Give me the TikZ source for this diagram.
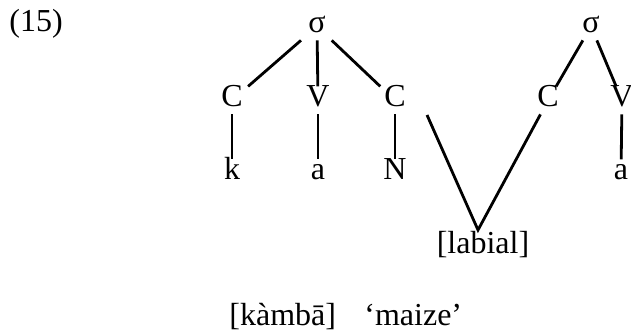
\documentclass[tikz,border=0pt]{standalone}
\usepackage{fontspec}
\setmainfont{Liberation Serif}
\begin{document}
\begin{tikzpicture}[x=0.5pt, y=-0.5pt, line width=1.4pt,
    every node/.style={font=\fontsize{16}{19}\selectfont},
    seg/.style={inner sep=3pt, text height=0.66em, text depth=0pt, anchor=base}]
    \useasboundingbox (0,0) rectangle (631,336);
    \node[anchor=base west, inner sep=0pt] (num) at (8,32) {(15)};
    % first syllable
    \node[seg] (s1) at (317,33) {σ};
    \node[seg] (c1) at (232,107) {C};
    \node[seg] (v1) at (318,107) {V};
    \node[seg] (c2) at (395,107) {C};
    \node[seg] (k) at (232,180) {k};
    \node[seg] (a1) at (318,180) {a};
    \node[seg] (n) at (395,180) {N};
    % second syllable
    \node[seg] (s2) at (591,33) {σ};
    \node[seg] (c3) at (548,107) {C};
    \node[seg] (v2) at (622,107) {V};
    \node[seg] (a2) at (621,180) {a};
    \node[anchor=base, inner sep=0pt] (lab) at (483,254) {[labial]};
    \coordinate (nasal) at (427,115);
    \coordinate (join) at (478,230);
    \draw (s1) -- (c1);
    \draw (s1) -- (v1);
    \draw (s1) -- (c2);
    \draw (c1) -- (k);
    \draw (v1) -- (a1);
    \draw (c2) -- (n);
    \draw (s2) -- (c3);
    \draw (s2) -- (v2);
    \draw (v2) -- (a2);
    \draw (nasal) -- (join) -- (c3);
    \node[anchor=base west, inner sep=0pt] (form) at (228,325) {[kàmbā]};
    \node[anchor=base west, inner sep=0pt] (gloss) at (363,325) {‘maize’};
\end{tikzpicture}
\end{document}
